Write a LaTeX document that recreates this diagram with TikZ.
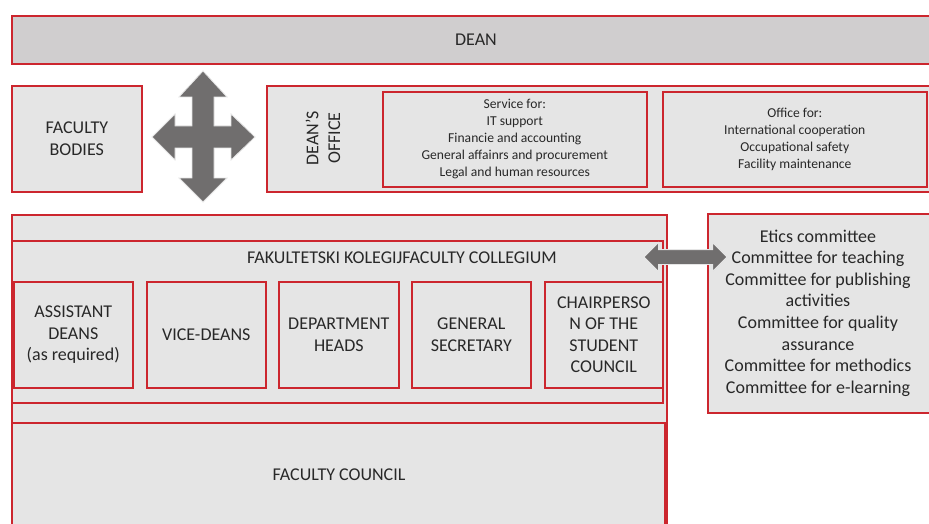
\documentclass[tikz,border=0pt]{standalone}
\usepackage{fontspec}
\setmainfont{Carlito}
\usetikzlibrary{shapes.arrows}
\definecolor{frame}{RGB}{204,38,46}
\definecolor{panel}{RGB}{229,229,229}
\definecolor{headpanel}{RGB}{208,206,207}
\definecolor{ink}{RGB}{40,40,40}
\definecolor{arrowgray}{RGB}{112,110,110}
\tikzset{
  box/.style={draw=frame, line width=1.6pt, fill=panel, anchor=north west,
    align=center, text=ink, inner sep=0pt},
  bigtext/.style={font=\fontsize{18}{21.6}\selectfont},
  smalltext/.style={font=\fontsize{13.6}{17}\selectfont},
  fatarrow/.style={fill=arrowgray, draw=white!80!gray, line width=0.8pt},
}
\begin{document}
\begin{tikzpicture}[x=1pt,y=-1pt]
\clip (0,0) rectangle (929,524);
\fill[white] (0,0) rectangle (929,524);

% top level
\node[box, fill=headpanel, minimum width=930, minimum height=48, bigtext] (dean) at (11,15) {};
\node[bigtext, text=ink] (deanlabel) at (476,40) {DEAN};

% faculty bodies and dean's office row
\node[box, minimum width=130, minimum height=106, bigtext] (bodies) at (11,85) {FACULTY\\BODIES};
\node[box, minimum width=670, minimum height=106] (office) at (266,85) {};
\node[bigtext, text=ink, rotate=90, align=center] (officelabel) at (323,138) {DEAN'S\\OFFICE};
\node[box, minimum width=264, minimum height=95, smalltext] (service) at (382,91)
  {Service for:\\IT support\\Financie and accounting\\General affainrs and procurement\\Legal and human resources};
\node[box, minimum width=264, minimum height=95, smalltext] (intl) at (662,91)
  {Office for:\\International cooperation\\Occupational safety\\Facility maintenance};

% four-way arrow between the bodies and the office
\draw[fatarrow] (203,71) -- (227,97) -- (214,97) -- (214,126) -- (231,126) -- (231,114)
  -- (255,137) -- (231,160) -- (231,148) -- (214,148) -- (214,178) -- (227,178)
  -- (203,202) -- (179,178) -- (192,178) -- (192,148) -- (175,148) -- (175,160)
  -- (152,137) -- (175,114) -- (175,126) -- (192,126) -- (192,97) -- (179,97) -- cycle;

% lower block
\node[box, minimum width=655, minimum height=330] (lower) at (11,214) {};
\node[box, minimum width=651, minimum height=162] (collegium) at (11,240) {};
\node[bigtext, text=ink] (collabel) at (402,258) {FAKULTETSKI KOLEGIJFACULTY COLLEGIUM};
\node[box, minimum width=119, minimum height=106, bigtext] (assistant) at (13,281) {ASSISTANT\\DEANS\\(as required)};
\node[box, minimum width=119, minimum height=106, bigtext] (vice) at (146,281) {VICE-DEANS};
\node[box, minimum width=120, minimum height=106, bigtext] (heads) at (278,281) {DEPARTMENT\\HEADS};
\node[box, minimum width=119, minimum height=106, bigtext] (secretary) at (411,281) {GENERAL\\SECRETARY};
\node[box, minimum width=118, minimum height=106, bigtext] (chair) at (544,281) {CHAIRPERSO\\N OF THE\\STUDENT\\COUNCIL};
\node[box, minimum width=653, minimum height=120, bigtext] (council) at (11,422) {};
\node[bigtext, text=ink] (councillabel) at (339,475) {FACULTY COUNCIL};

% committees
\node[box, minimum width=230, minimum height=199, bigtext] (committees) at (707,213) {};
\node[bigtext, text=ink, align=center] (comtext) at (818,313)
  {Etics committee\\Committee for teaching\\Committee for publishing\\activities\\Committee for quality\\assurance\\Committee for methodics\\Committee for e-learning};

% link between collegium and committees
\node[double arrow, fill=arrowgray, draw=white!80!gray, line width=0.8pt,
  minimum height=83pt, minimum width=28pt, inner sep=7pt,
  double arrow head extend=7pt] (link) at (685.5,257) {};
\end{tikzpicture}
\end{document}
